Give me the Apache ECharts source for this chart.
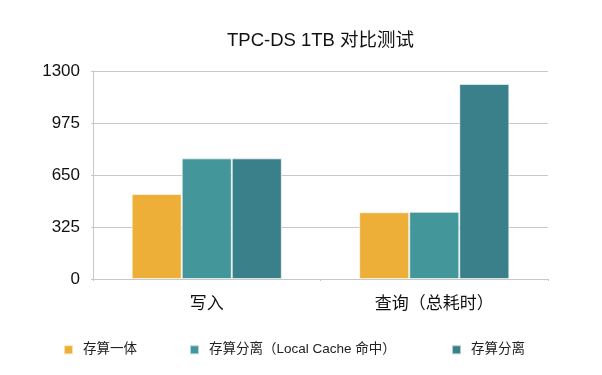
<!DOCTYPE html>
<html><head><meta charset="utf-8">
<script src="https://cdn.jsdelivr.net/npm/echarts@6/dist/echarts.min.js"></script>
<style>html,body{margin:0;padding:0;background:#fff}#c{width:602px;height:375px}</style>
</head><body><div id="c"></div>
<script>
const categories = ['写入', '查询（总耗时）'];
const seriesNames = ['存算一体', '存算分离（Local Cache 命中）', '存算分离'];
const seriesA = [531, 417];
const seriesB = [754, 420];
const seriesC = [754, 1219];
const yTicks = [0, 325, 650, 975, 1300];
const colors = ['#EDAF37', '#43979B', '#3A808B'];
const FONT = '"Liberation Sans", "Noto Sans CJK SC", sans-serif';

const chart = echarts.init(document.getElementById('c'));
const values = [seriesA, seriesB, seriesC];
const legendLefts = [63, 189, 451];
chart.setOption({
  animation: false,
  color: colors,
  textStyle: { fontFamily: FONT },
  title: {
    text: 'TPC-DS 1TB 对比测试', left: 222, top: 27,
    textStyle: { fontSize: 18.5, fontWeight: 'normal', color: '#111', fontFamily: FONT }
  },
  legend: seriesNames.map((n, i) => ({
    left: legendLefts[i], top: 343, itemWidth: 9, itemHeight: 9,
    icon: 'rect', padding: 0,
    textStyle: { fontSize: 13.5, color: '#222', fontFamily: FONT, padding: [0, 0, 0, 5] },
    data: [n]
  })),
  grid: { left: 93, right: 54, top: 71, bottom: 96, containLabel: false },
  xAxis: {
    type: 'category', data: categories,
    axisLine: { lineStyle: { color: '#c8c8c8' } },
    axisTick: { show: true, length: 2, lineStyle: { color: '#c8c8c8' } },
    axisLabel: { fontSize: 17, color: '#111', margin: 17, fontFamily: FONT }
  },
  yAxis: {
    type: 'value', min: yTicks[0], max: yTicks[yTicks.length - 1], interval: yTicks[1] - yTicks[0],
    axisLine: { show: true, lineStyle: { color: '#c8c8c8' } },
    axisTick: { show: true, length: 2, lineStyle: { color: '#c8c8c8' } },
    axisLabel: { fontSize: 17, color: '#111', margin: 13, fontFamily: FONT, formatter: v => String(v) },
    splitLine: { lineStyle: { color: '#c8c8c8' } }
  },
  series: seriesNames.map((n, i) => ({
    name: n, type: 'bar', data: values[i],
    barGap: '0%', barCategoryGap: '34%',
    itemStyle: { borderColor: 'rgba(255,255,255,0.6)', borderWidth: 1 }
  }))
});
</script></body></html>
